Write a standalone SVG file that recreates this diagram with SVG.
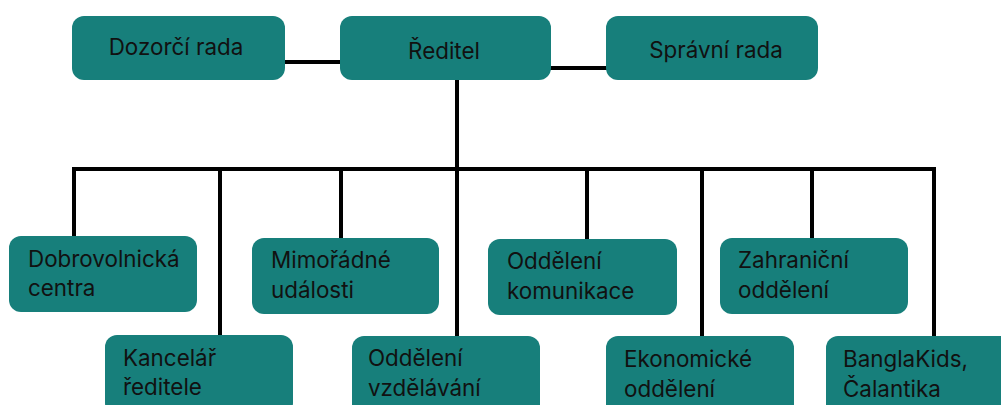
<svg xmlns="http://www.w3.org/2000/svg" width="1001" height="405" viewBox="0 0 1001 405">
<style>
.box{fill:#177f7b;}
.t{font-family:Inter,"Noto Sans","DejaVu Sans",sans-serif;font-size:22.4px;fill:#111;}
.c{text-anchor:middle;}
.ln{stroke:#000;stroke-width:4;fill:none;stroke-linecap:square;}
</style>
<rect width="1001" height="405" fill="#fff"/>
<g id="connectors">
<line class="ln" x1="285" y1="62" x2="340" y2="62"/>
<line class="ln" x1="551" y1="68" x2="606" y2="68"/>
<line class="ln" x1="457" y1="80" x2="457" y2="169"/>
<line class="ln" x1="74" y1="169" x2="934" y2="169"/>
<line class="ln" x1="74" y1="169" x2="74" y2="236"/>
<line class="ln" x1="220" y1="169" x2="220" y2="335"/>
<line class="ln" x1="341" y1="169" x2="341" y2="238"/>
<line class="ln" x1="457" y1="169" x2="457" y2="336"/>
<line class="ln" x1="587" y1="169" x2="587" y2="239"/>
<line class="ln" x1="702" y1="169" x2="702" y2="336"/>
<line class="ln" x1="812" y1="169" x2="812" y2="238"/>
<line class="ln" x1="934" y1="169" x2="934" y2="336"/>
</g>
<g id="dozorci"><rect class="box" x="72" y="16" width="213" height="64" rx="12"/><text class="t c" x="176" y="55">Dozorčí rada</text></g>
<g id="reditel"><rect class="box" x="340" y="16" width="211" height="64" rx="12"/><text class="t c" x="444" y="59">Ředitel</text></g>
<g id="spravni"><rect class="box" x="606" y="16" width="212" height="64" rx="12"/><text class="t c" x="716" y="58">Správní rada</text></g>
<g id="dobrovolnicka"><rect class="box" x="9" y="236" width="188" height="76" rx="12"/><text class="t" x="28" y="267">Dobrovolnická</text><text class="t" x="28" y="296">centra</text></g>
<g id="mimoradne"><rect class="box" x="252" y="238" width="187" height="76" rx="12"/><text class="t" x="271" y="268">Mimořádné</text><text class="t" x="271" y="298">události</text></g>
<g id="komunikace"><rect class="box" x="488" y="239" width="189" height="76" rx="12"/><text class="t" x="507" y="269">Oddělení</text><text class="t" x="507" y="299">komunikace</text></g>
<g id="zahranicni"><rect class="box" x="720" y="238" width="188" height="76" rx="12"/><text class="t" x="738" y="268">Zahraniční</text><text class="t" x="738" y="298">oddělení</text></g>
<g id="kancelar"><rect class="box" x="105" y="335" width="188" height="80" rx="12"/><text class="t" x="123" y="366">Kancelář</text><text class="t" x="123" y="395">ředitele</text></g>
<g id="vzdelavani"><rect class="box" x="352" y="336" width="188" height="80" rx="12"/><text class="t" x="368" y="366">Oddělení</text><text class="t" x="368" y="396">vzdělávání</text></g>
<g id="ekonomicke"><rect class="box" x="606" y="336" width="188" height="80" rx="12"/><text class="t" x="624" y="367">Ekonomické</text><text class="t" x="624" y="397">oddělení</text></g>
<g id="banglakids"><rect class="box" x="826" y="336" width="190" height="80" rx="12"/><text class="t" x="843" y="367">BanglaKids,</text><text class="t" x="843" y="397">Čalantika</text></g>
</svg>
